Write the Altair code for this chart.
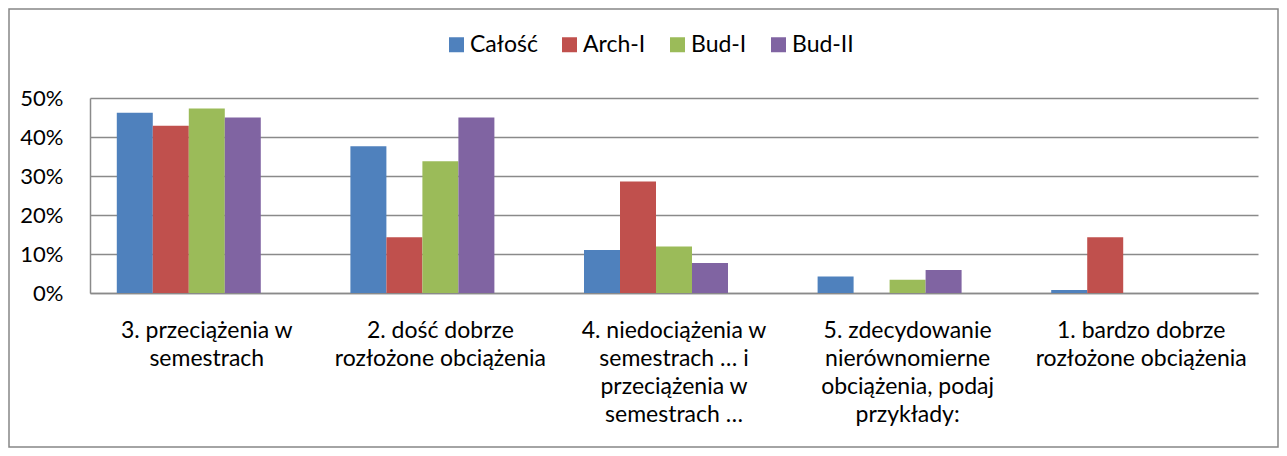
import altair as alt
import pandas as pd

categories = [
    "3. przeciążenia w\nsemestrach",
    "2. dość dobrze\nrozłożone obciążenia",
    "4. niedociążenia w\nsemestrach … i\nprzeciążenia w\nsemestrach …",
    "5. zdecydowanie\nnierównomierne\nobciążenia, podaj\nprzykłady:",
    "1. bardzo dobrze\nrozłożone obciążenia",
]
series = ["Całość", "Arch-I", "Bud-I", "Bud-II"]
colors = ["#4F81BD", "#C0504D", "#9BBB59", "#8064A2"]

calosc = [0.462, 0.376, 0.110, 0.042, 0.008]
arch_i = [0.429, 0.143, 0.286, 0.0, 0.143]
bud_i = [0.473, 0.338, 0.119, 0.034, 0.0]
bud_ii = [0.450, 0.450, 0.077, 0.059, 0.0]

values = [calosc, arch_i, bud_i, bud_ii]
rows = []
for s, vals in zip(series, values):
    for c, v in zip(categories, vals):
        rows.append({"kategoria": c, "seria": s, "wartosc": v})
df = pd.DataFrame(rows)

FONT = "Lato"
GRID = "#8a8a8a"
W, H = 1168, 195
PAD = {"left": 82, "top": 90, "right": 21, "bottom": 155}

bars = alt.Chart(df).mark_bar().encode(
    x=alt.X(
        "kategoria:N",
        sort=categories,
        scale=alt.Scale(paddingInner=0.2295, paddingOuter=0.1147),
        axis=alt.Axis(
            title=None,
            labelAngle=0,
            labelFont=FONT,
            labelFontSize=23,
            labelColor="#000000",
            labelLineHeight=28.3,
            labelPadding=26,
            labelLimit=500,
            labelOverlap=False,
            labelExpr="split(datum.label, '\\n')",
            ticks=False,
            tickSize=0,
            domain=True,
            domainColor=GRID,
            domainWidth=1.5,
            grid=False,
        ),
    ),
    xOffset=alt.XOffset(
        "seria:N",
        sort=series,
        scale=alt.Scale(domain=series + ["_"], paddingInner=0, paddingOuter=0),
    ),
    y=alt.Y(
        "wartosc:Q",
        scale=alt.Scale(domain=[0, 0.5], nice=False),
        axis=alt.Axis(
            title=None,
            values=[0, 0.1, 0.2, 0.3, 0.4, 0.5],
            format=".0%",
            labelFont=FONT,
            labelFontSize=22,
            labelColor="#000000",
            labelPadding=27,
            ticks=False,
            tickSize=0,
            domain=True,
            domainColor=GRID,
            domainWidth=1.5,
            grid=True,
            gridColor=GRID,
            gridWidth=1.5,
        ),
    ),
    color=alt.Color(
        "seria:N",
        sort=series,
        scale=alt.Scale(domain=series, range=colors),
        legend=alt.Legend(
            title=None,
            orient="none",
            direction="horizontal",
            legendX=355,
            legendY=-65,
            symbolType="square",
            symbolSize=225,
            symbolStrokeWidth=0,
            labelFont=FONT,
            labelFontSize=23,
            labelColor="#000000",
            labelOffset=2,
            columnPadding=20,
            padding=0,
        ),
    ),
)

frame = alt.Chart(pd.DataFrame({"a": [0]})).mark_rect(
    fill=None, stroke="#868686", strokeWidth=1.5
).encode(
    x=alt.value(-81),
    x2=alt.value(W + PAD["right"] - 1),
    y=alt.value(-89),
    y2=alt.value(H + PAD["bottom"] - 1),
)

chart = alt.layer(bars, frame).properties(
    width=W,
    height=H,
    padding=PAD,
    autosize=alt.AutoSizeParams(type="none"),
    background="#ffffff",
).configure_view(stroke=None)

chart.save("out.html", embed_options={"renderer": "svg", "actions": False})
